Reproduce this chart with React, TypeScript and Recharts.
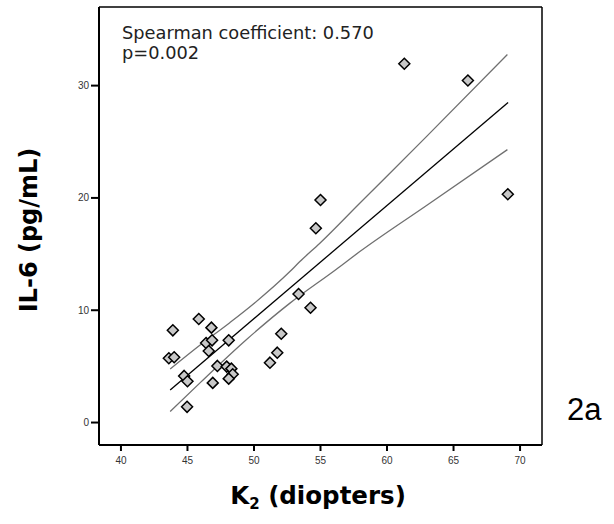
import React from 'react';
import { ComposedChart, Scatter, Line, XAxis, YAxis, ReferenceLine } from 'recharts';

// K2 (diopters) and IL-6 (pg/mL) for each patient
const k2Values = [
  43.6, 44.0, 43.9, 44.75, 45.0, 44.97, 45.85, 46.8, 46.4, 46.85, 46.6, 47.25, 46.9, 48.1,
  47.95, 48.3, 48.4, 48.1, 51.2, 51.75, 52.05, 53.35, 54.25, 54.65, 55.0, 69.08, 61.3, 66.08,
];
const il6Values = [
  5.72, 5.81, 8.21, 4.15, 3.68, 1.4, 9.22, 8.45, 7.08, 7.32, 6.37, 5.04, 3.53, 7.32,
  4.98, 4.8, 4.3, 3.91, 5.33, 6.22, 7.91, 11.44, 10.22, 17.3, 19.82, 20.33, 31.95, 30.46,
];

// fit line and 95% band
const fitX = [43.7, 69.1];
const fitY = [2.9, 28.5];
const upperX = [43.7, 46.0, 48.18, 50.0, 52.68, 53.43, 54.93, 57.93, 63.0, 69.05];
const upperY = [4.77, 6.95, 8.89, 10.6, 13.42, 14.31, 15.94, 19.5, 25.5, 32.77];
const lowerX = [43.7, 46.0, 49.4, 52.68, 56.17, 57.93, 63.0, 69.05];
const lowerY = [0.98, 3.6, 7.35, 10.61, 13.63, 15.2, 19.35, 24.3];

const xTicks = [40, 45, 50, 55, 60, 65, 70];
const yTicks = [0, 10, 20, 30];

const toRows = (xs: number[], ys: number[]) => xs.map((x, i) => ({ x, y: ys[i] }));

const points = toRows(k2Values, il6Values);
const fitLine = toRows(fitX, fitY);
const upperBand = toRows(upperX, upperY);
const lowerBand = toRows(lowerX, lowerY);

const Diamond = (props: any) => {
  const { cx, cy } = props;
  const r = 5.5;
  return (
    <polygon
      points={`${cx},${cy - r} ${cx + r},${cy} ${cx},${cy + r} ${cx - r},${cy}`}
      fill="#c8c8c8"
      stroke="#000"
      strokeWidth={1.5}
    />
  );
};

const tickStyle = { fontFamily: 'Liberation Sans, Arial, sans-serif', fontSize: 10, fill: '#333' };

export default function App() {
  return (
    <div style={{ position: 'absolute', left: 0, top: 0, width: 614, height: 524, background: '#fff' }}>
      <ComposedChart width={614} height={524} margin={{ top: 7, right: 72, left: 0, bottom: 0 }}>
        <XAxis
          type="number"
          dataKey="x"
          domain={[38.35, 71.65]}
          ticks={xTicks}
          allowDataOverflow
          height={79}
          tickSize={6}
          tickMargin={6}
          stroke="#000"
          strokeWidth={2}
          tick={tickStyle}
        />
        <YAxis
          type="number"
          dataKey="y"
          domain={[-2, 37]}
          ticks={yTicks}
          allowDataOverflow
          width={99}
          tickSize={8}
          tickMargin={2}
          stroke="#000"
          strokeWidth={2}
          tick={tickStyle}
        />
        <ReferenceLine y={37} stroke="#000" strokeWidth={1.5} />
        <ReferenceLine x={71.65} stroke="#000" strokeWidth={1.5} />
        <Line data={upperBand} dataKey="y" type="monotone" stroke="#707070" strokeWidth={1.3} dot={false} isAnimationActive={false} />
        <Line data={lowerBand} dataKey="y" type="monotone" stroke="#707070" strokeWidth={1.3} dot={false} isAnimationActive={false} />
        <Line data={fitLine} dataKey="y" type="linear" stroke="#000" strokeWidth={1.3} dot={false} isAnimationActive={false} />
        <Scatter data={points} dataKey="y" shape={Diamond} isAnimationActive={false} />
      </ComposedChart>

      <div
        style={{
          position: 'absolute',
          left: 122,
          top: 23,
          fontFamily: 'DejaVu Sans, Verdana, sans-serif',
          fontSize: 17.8,
          lineHeight: '20px',
          color: '#222',
        }}
      >
        Spearman coefficient: 0.570
        <br />
        p=0.002
      </div>

      <div
        style={{
          position: 'absolute',
          left: 318,
          top: 497,
          transform: 'translate(-50%, -50%)',
          whiteSpace: 'nowrap',
          fontFamily: 'DejaVu Sans, Verdana, sans-serif',
          fontWeight: 'bold',
          fontSize: 24.5,
          color: '#000',
        }}
      >
        K<sub style={{ fontSize: 15 }}>2</sub> (diopters)
      </div>

      <div
        style={{
          position: 'absolute',
          left: 29,
          top: 230,
          transform: 'translate(-50%, -50%) rotate(-90deg)',
          whiteSpace: 'nowrap',
          fontFamily: 'DejaVu Sans, Verdana, sans-serif',
          fontWeight: 'bold',
          fontSize: 24,
          color: '#000',
        }}
      >
        IL-6 (pg/mL)
      </div>

      <div
        style={{
          position: 'absolute',
          left: 567,
          top: 392,
          fontFamily: 'Liberation Sans, Arial, sans-serif',
          fontSize: 31,
          lineHeight: '36px',
          color: '#000',
        }}
      >
        2a
      </div>
    </div>
  );
}
